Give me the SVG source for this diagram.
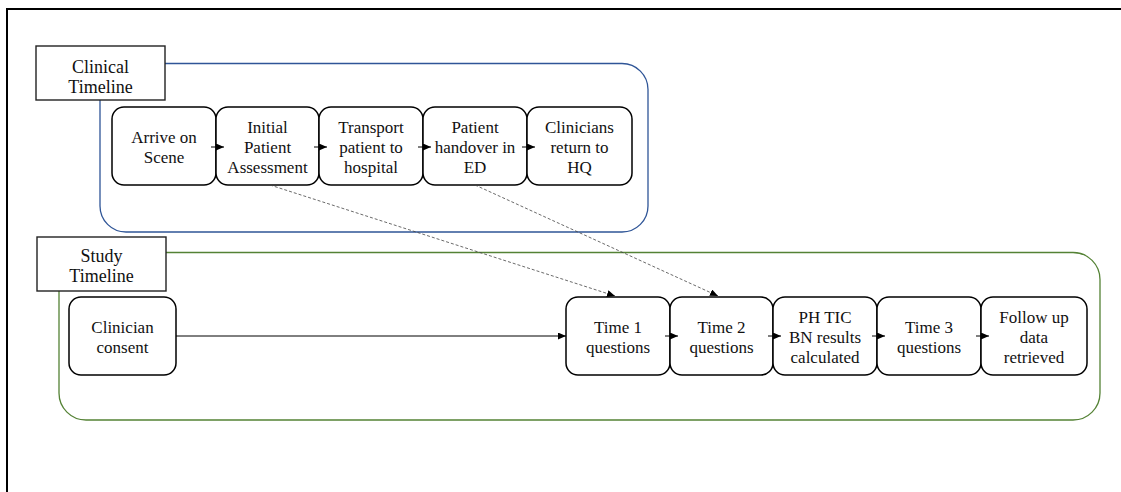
<svg xmlns="http://www.w3.org/2000/svg" width="1121" height="492" viewBox="0 0 1121 492">
  <style>
    .frame { fill: none; stroke: #000; stroke-width: 2; }
    .lane-clin { fill: none; stroke: #2f5597; stroke-width: 1.3; }
    .lane-study { fill: none; stroke: #548235; stroke-width: 1.3; }
    .label-box { fill: #fff; stroke: #222; stroke-width: 1.4; }
    .node { fill: #fff; stroke: #000; stroke-width: 1.5; }
    text { font-family: 'Liberation Serif', Tinos, 'Times New Roman', 'DejaVu Serif', serif; fill: #111; text-anchor: middle; }
    .t-label { font-size: 18px; }
    .t-node { font-size: 17px; }
    .flow { stroke: #000; stroke-width: 1; fill: none; marker-end: url(#arrow); }
    .link { stroke: #444; stroke-width: 0.8; fill: none; stroke-dasharray: 3 2; marker-end: url(#arrow); }
  </style>
  <defs>
    <marker id="arrow" markerUnits="userSpaceOnUse" markerWidth="9" markerHeight="8" refX="8" refY="3.5" orient="auto">
      <path d="M0,0 L8,3.5 L0,7 z" fill="#000"/>
    </marker>
  </defs>

  <rect width="1121" height="492" fill="#fff"/>
  <!-- outer frame -->
  <rect class="frame" x="7" y="9" width="1130" height="500"/>

  <!-- swimlane containers -->
  <g id="clinical-lane">
    <rect class="lane-clin" x="100" y="63.5" width="548" height="168.5" rx="26"/>
    <rect class="label-box" x="36" y="46" width="129" height="54"/>
    <text class="t-label" x="100.5" y="73">Clinical</text>
    <text class="t-label" x="100.5" y="93">Timeline</text>
  </g>
  <g id="study-lane">
    <rect class="lane-study" x="59" y="252.5" width="1041" height="167.5" rx="27"/>
    <rect class="label-box" x="37" y="237" width="129" height="54"/>
    <text class="t-label" x="101.5" y="262">Study</text>
    <text class="t-label" x="101.5" y="282">Timeline</text>
  </g>

  <!-- clinical timeline nodes -->
  <g id="arrive">
    <rect class="node" x="112" y="107" width="104" height="78" rx="12"/>
    <text class="t-node" x="164" y="143">Arrive on</text>
    <text class="t-node" x="164" y="163">Scene</text>
  </g>
  <g id="assessment">
    <rect class="node" x="216" y="107" width="103" height="78" rx="12"/>
    <text class="t-node" x="267.5" y="133">Initial</text>
    <text class="t-node" x="267.5" y="153">Patient</text>
    <text class="t-node" x="267.5" y="173">Assessment</text>
  </g>
  <g id="transport">
    <rect class="node" x="319" y="107" width="104" height="78" rx="12"/>
    <text class="t-node" x="371" y="133">Transport</text>
    <text class="t-node" x="371" y="153">patient to</text>
    <text class="t-node" x="371" y="173">hospital</text>
  </g>
  <g id="handover">
    <rect class="node" x="423" y="107" width="104" height="78" rx="12"/>
    <text class="t-node" x="475" y="133">Patient</text>
    <text class="t-node" x="475" y="153">handover in</text>
    <text class="t-node" x="475" y="173">ED</text>
  </g>
  <g id="return-hq">
    <rect class="node" x="527" y="107" width="105" height="78" rx="12"/>
    <text class="t-node" x="579.5" y="133">Clinicians</text>
    <text class="t-node" x="579.5" y="153">return to</text>
    <text class="t-node" x="579.5" y="173">HQ</text>
  </g>

  <!-- study timeline nodes -->
  <g id="consent">
    <rect class="node" x="69" y="297" width="107" height="78" rx="12"/>
    <text class="t-node" x="122.5" y="333">Clinician</text>
    <text class="t-node" x="122.5" y="353">consent</text>
  </g>
  <g id="time1">
    <rect class="node" x="566" y="297" width="104" height="78" rx="12"/>
    <text class="t-node" x="618" y="333">Time 1</text>
    <text class="t-node" x="618" y="353">questions</text>
  </g>
  <g id="time2">
    <rect class="node" x="670" y="297" width="103" height="78" rx="12"/>
    <text class="t-node" x="721.5" y="333">Time 2</text>
    <text class="t-node" x="721.5" y="353">questions</text>
  </g>
  <g id="bn-results">
    <rect class="node" x="773" y="297" width="104" height="78" rx="12"/>
    <text class="t-node" x="825" y="323">PH TIC</text>
    <text class="t-node" x="825" y="343">BN results</text>
    <text class="t-node" x="825" y="363">calculated</text>
  </g>
  <g id="time3">
    <rect class="node" x="877" y="297" width="104" height="78" rx="12"/>
    <text class="t-node" x="929" y="333">Time 3</text>
    <text class="t-node" x="929" y="353">questions</text>
  </g>
  <g id="follow-up">
    <rect class="node" x="981" y="297" width="106" height="78" rx="12"/>
    <text class="t-node" x="1034" y="323">Follow up</text>
    <text class="t-node" x="1034" y="343">data</text>
    <text class="t-node" x="1034" y="363">retrieved</text>
  </g>

  <!-- connectors -->
  <g id="connectors">
    <line class="flow" x1="211" y1="147" x2="224" y2="147"/>
    <line class="flow" x1="314" y1="147" x2="327" y2="147"/>
    <line class="flow" x1="418" y1="147" x2="431" y2="147"/>
    <line class="flow" x1="522" y1="147" x2="535" y2="147"/>

    <line class="flow" x1="176" y1="336" x2="566" y2="336"/>
    <line class="flow" x1="665" y1="336" x2="678" y2="336"/>
    <line class="flow" x1="768" y1="336" x2="781" y2="336"/>
    <line class="flow" x1="872" y1="336" x2="885" y2="336"/>
    <line class="flow" x1="976" y1="336" x2="989" y2="336"/>

    <line class="link" x1="270" y1="185" x2="615" y2="296"/>
    <line class="link" x1="475" y1="185" x2="718" y2="296"/>
  </g>
</svg>
